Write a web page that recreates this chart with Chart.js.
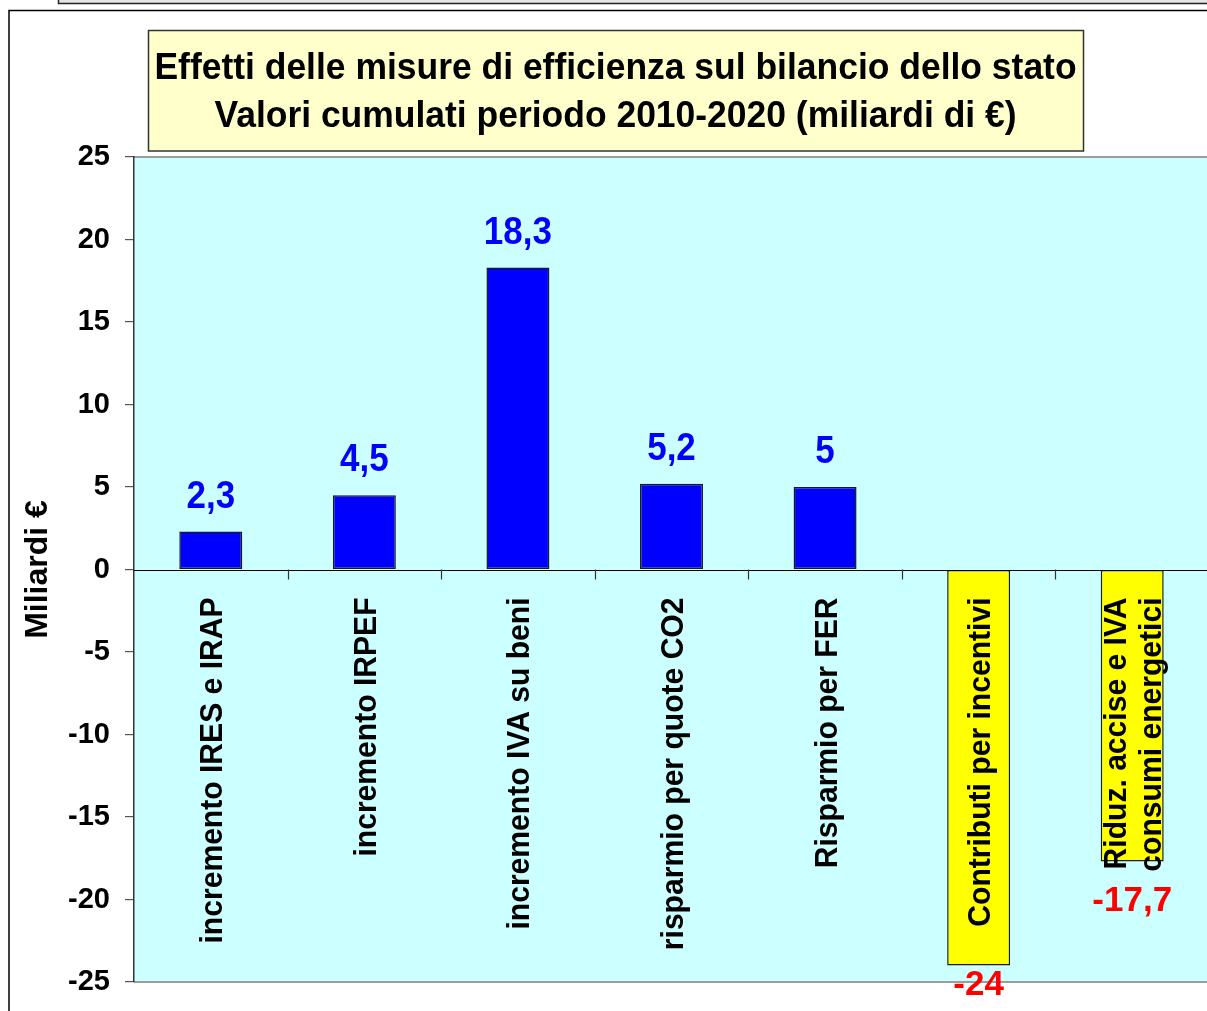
<!DOCTYPE html>
<html><head><meta charset="utf-8">
<script src="https://cdn.jsdelivr.net/npm/chart.js@4.4.0/dist/chart.umd.min.js"></script>
<style>
html,body{margin:0;padding:0;overflow:hidden;background:#fff;width:1207px;height:1011px}
#wrap{position:absolute;left:0;top:0;width:1209px;height:1011px}
</style>
</head><body><div id="wrap"><canvas id="c" width="1209" height="1011"></canvas></div>
<script>
const categories = [
  ["incremento IRES e IRAP"],
  ["incremento IRPEF"],
  ["incremento IVA su beni"],
  ["risparmio per quote CO2"],
  ["Risparmio per FER"],
  ["Contributi per incentivi"],
  ["Riduz. accise e IVA", "consumi energetici"]
];
const values = [2.3, 4.5, 18.3, 5.2, 5, -24, -17.7];
const yTicks = [-25, -20, -15, -10, -5, 0, 5, 10, 15, 20, 25];
const titleLines = ["Effetti delle misure di efficienza sul bilancio dello stato",
                    "Valori cumulati periodo 2010-2020 (miliardi di €)"];
const yTitle = "Miliardi €";

const FONT = "'Liberation Sans', Arial, Helvetica, sans-serif";
const POS_COLOR = '#0000ff', NEG_COLOR = '#ffff00';

function drawText(ctx, s, x, y, size, o) {
  o = o || {};
  ctx.save();
  ctx.translate(x, y);
  if (o.rot) ctx.rotate(o.rot);
  ctx.scale(o.sx || 1, o.sy || 1);
  ctx.font = 'bold ' + size + 'px ' + FONT;
  ctx.fillStyle = o.color || '#000';
  ctx.textAlign = o.align || 'center';
  ctx.textBaseline = 'alphabetic';
  ctx.fillText(s, 0, 0);
  ctx.restore();
}
function hline(ctx, x1, x2, y) { ctx.beginPath(); ctx.moveTo(x1, y); ctx.lineTo(x2, y); ctx.stroke(); }

const deco = {
  id: 'deco',
  beforeDraw(chart) {
    const ctx = chart.ctx, a = chart.chartArea;
    ctx.save();
    // outer frames
    ctx.fillStyle = '#e4e4e4';
    ctx.fillRect(58, -6, 1170, 9.5);
    ctx.strokeStyle = '#222'; ctx.lineWidth = 1.5;
    ctx.strokeRect(58.5, -6, 1170, 9.5);
    ctx.strokeStyle = '#000'; ctx.lineWidth = 1.5;
    ctx.beginPath(); ctx.moveTo(9, 1030); ctx.lineTo(9, 10.5); ctx.lineTo(1230, 10.5); ctx.stroke();
    // plot background
    ctx.fillStyle = '#ccffff';
    ctx.fillRect(a.left, a.top, a.right - a.left, a.bottom - a.top);
    ctx.strokeStyle = '#9c9c9c'; ctx.lineWidth = 2;
    hline(ctx, a.left, a.right + 2, a.top);
    hline(ctx, a.left, a.right + 2, a.bottom);
    // title box
    ctx.fillStyle = '#ffffcc';
    ctx.fillRect(148, 30, 935, 121);
    ctx.strokeStyle = '#333'; ctx.lineWidth = 1.5;
    ctx.strokeRect(148.5, 30.5, 935, 120.5);
    drawText(ctx, titleLines[0], 615.5, 79, 36, { sx: 0.985 });
    drawText(ctx, titleLines[1], 615.5, 127, 36, { sx: 0.985 });
    ctx.restore();
  },
  afterDatasetsDraw(chart) {
    const ctx = chart.ctx, a = chart.chartArea;
    const xs = chart.scales.x, ys = chart.scales.y;
    const zy = ys.getPixelForValue(0);
    ctx.save();
    // zero axis line
    ctx.strokeStyle = '#000'; ctx.lineWidth = 1.2;
    hline(ctx, a.left, a.right, Math.round(zy) + 0.5);
    // category boundary tick marks
    ctx.strokeStyle = '#333'; ctx.lineWidth = 1.2;
    for (let i = 1; i < categories.length; i++) {
      const bx = Math.round((xs.getPixelForValue(i - 1) + xs.getPixelForValue(i)) / 2) + 0.5;
      ctx.beginPath(); ctx.moveTo(bx, zy); ctx.lineTo(bx, zy + 10); ctx.stroke();
    }
    // category labels (rotated, inside plot)
    categories.forEach((lines, i) => {
      const cx = xs.getPixelForValue(i);
      const lh = 35;
      const n = lines.length;
      lines.forEach((ln, j) => {
        const bx = cx + 11.5 + (j - (n - 1) / 2) * lh;
        drawText(ctx, ln, bx, zy + 28, 32, { rot: -Math.PI / 2, sx: 0.94, align: 'right' });
      });
    });
    // data labels
    const meta = chart.getDatasetMeta(0);
    values.forEach((v, i) => {
      const bar = meta.data[i];
      const s = String(v).replace('.', ',');
      if (v >= 0) {
        drawText(ctx, s, bar.x, bar.y - 24, 35, { sy: 1.12, color: '#0000ff' });
      } else {
        const by = Math.min(bar.y + 49, a.bottom + 13);
        drawText(ctx, s, bar.x, by, 35, { color: '#ff0000' });
      }
    });
    ctx.restore();
  }
};

new Chart(document.getElementById('c'), {
  type: 'bar',
  data: {
    labels: categories,
    datasets: [{
      data: values,
      backgroundColor: values.map(v => v >= 0 ? POS_COLOR : NEG_COLOR),
      borderColor: '#1a1a1a',
      borderWidth: 1.5,
      borderSkipped: false,
      barPercentage: 0.41,
      categoryPercentage: 1.0
    }]
  },
  options: {
    responsive: false,
    animation: false,
    devicePixelRatio: 1,
    layout: { padding: { left: 0, right: 0, top: 157, bottom: 29 } },
    plugins: { legend: { display: false }, title: { display: false }, tooltip: { enabled: false } },
    scales: {
      x: { type: 'category', display: false, offset: true },
      y: {
        min: yTicks[0], max: yTicks[yTicks.length - 1],
        afterBuildTicks: s => { s.ticks = yTicks.map(v => ({ value: v })); },
        afterFit: s => { s.width = 134; s.paddingTop = 0; s.paddingBottom = 0; },
        ticks: { color: '#000', padding: 15, font: { family: FONT, size: 29, weight: 'bold' } },
        grid: { drawOnChartArea: false, drawTicks: true, tickLength: 9, color: '#555', lineWidth: 1.2 },
        border: { display: true, color: '#333', width: 1.5 },
        title: { display: true, text: yTitle, color: '#000', font: { family: FONT, size: 32, weight: 'bold' }, padding: { top: 19, bottom: 0 } }
      }
    }
  },
  plugins: [deco]
});
</script>
</body></html>
